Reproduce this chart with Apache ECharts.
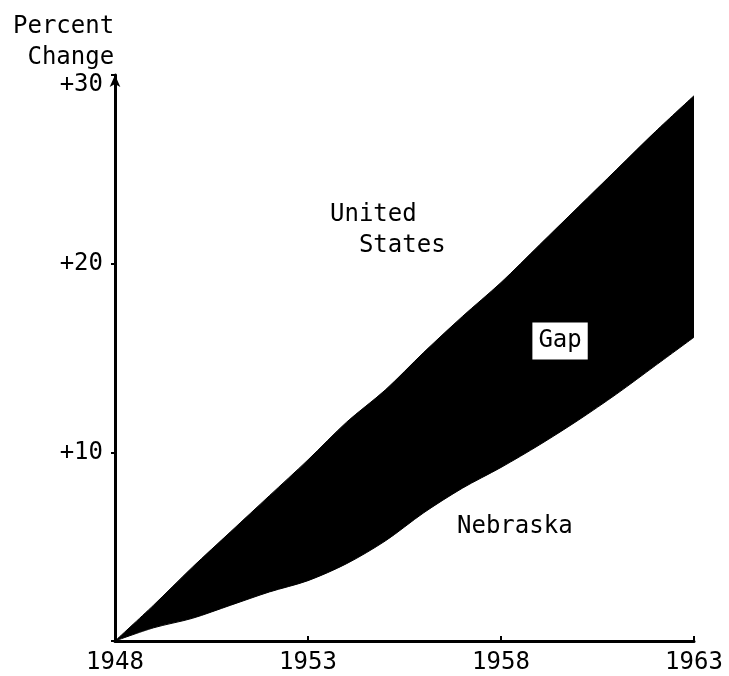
<!DOCTYPE html>
<html>
<head>
<meta charset="utf-8">
<script src="https://cdn.jsdelivr.net/npm/echarts@6/dist/echarts.min.js"></script>
<style>
  html, body { margin: 0; padding: 0; background: #fff; }
  #chart { width: 729px; height: 676px; }
</style>
</head>
<body>
<div id="chart"></div>
<script>
// years and percent change
const years = ['1948', '1949', '1950', '1951', '1952', '1953', '1954', '1955', '1956', '1957', '1958', '1959', '1960', '1961', '1962', '1963'];
const unitedStates = [0, 1.9, 3.9, 5.8, 7.7, 9.6, 11.6, 13.3, 15.3, 17.2, 19.0, 21.0, 23.0, 25.0, 27.0, 28.9];
const nebraska = [0, 0.7, 1.2, 1.9, 2.6, 3.2, 4.1, 5.3, 6.8, 8.1, 9.2, 10.4, 11.7, 13.1, 14.6, 16.1];
const xTicks = ['1948', '1953', '1958', '1963'];
const yTicks = [0, 10, 20, 30];

// text written on the chart, placed by data coordinates (year, percent)
const notes = [
  { text: 'United\n  States', year: 1953.57, value: 23.4, box: false },
  { text: 'Nebraska', year: 1956.86, value: 6.9, box: false },
  { text: 'Gap', year: 1959.53, value: 15.9, box: true }
];

const font = 'DejaVu Sans Mono';
const ink = '#000';
const chart = echarts.init(document.getElementById('chart'));

// the black band is stacked on top of Nebraska
const gap = unitedStates.map((v, i) => +(v - nebraska[i]).toFixed(2));
const showTick = (i, name) => xTicks.indexOf(name) >= 0;

chart.setOption({
  animation: false,
  title: {
    text: 'Percent\n Change',
    left: 8,
    top: 6,
    textStyle: { fontFamily: font, fontSize: 24, fontWeight: 'normal', color: ink, lineHeight: 31 }
  },
  grid: { left: 115, right: 35, top: 75, bottom: 35 },
  xAxis: [
    {
      type: 'category',
      data: years,
      boundaryGap: false,
      z: 5,
      axisLine: { lineStyle: { color: ink, width: 3 } },
      axisTick: { inside: true, length: 5, interval: showTick, lineStyle: { color: ink, width: 2 } },
      axisLabel: { fontFamily: font, fontSize: 24, color: ink, margin: 10, interval: showTick }
    },
    {
      // hidden axis used only to place the notes between the years
      type: 'value',
      min: +years[0],
      max: +years[years.length - 1],
      show: false
    }
  ],
  yAxis: {
    type: 'value',
    min: yTicks[0],
    max: yTicks[yTicks.length - 1],
    interval: 10,
    z: 5,
    splitLine: { show: false },
    axisLine: { symbol: ['none', 'arrow'], symbolSize: [8, 12], lineStyle: { color: ink, width: 3 } },
    axisTick: { length: 4, lineStyle: { color: ink, width: 2 } },
    axisLabel: {
      fontFamily: font, fontSize: 24, color: ink, margin: 12,
      formatter: v => (v === 0 ? '' : v === 30 ? '{low|+30}' : '+' + v),
      rich: { low: { fontFamily: font, fontSize: 24, color: ink, padding: [20, 0, 0, 0] } }
    }
  },
  series: [
    {
      name: 'Nebraska',
      type: 'line',
      stack: 'total',
      data: nebraska,
      smooth: 0.3,
      showSymbol: false,
      lineStyle: { color: ink, width: 1 }
    },
    {
      name: 'Gap',
      type: 'line',
      stack: 'total',
      data: gap,
      smooth: 0.3,
      showSymbol: false,
      lineStyle: { color: ink, width: 1 },
      areaStyle: { color: ink, opacity: 1 }
    }
  ]
});

const graphics = notes.map(n => {
  const p = chart.convertToPixel({ xAxisIndex: 1, yAxisIndex: 0 }, [n.year, n.value]);
  return {
    type: 'text',
    x: p[0],
    y: p[1],
    z: 10,
    style: {
      text: n.text,
      fontFamily: font,
      fontSize: 24,
      lineHeight: 31,
      fill: ink,
      align: n.box ? 'center' : 'left',
      verticalAlign: n.box ? 'middle' : 'top',
      backgroundColor: n.box ? '#fff' : 'transparent',
      padding: n.box ? [3, 6] : 0
    }
  };
});
chart.setOption({ graphic: graphics });
</script>
</body>
</html>
